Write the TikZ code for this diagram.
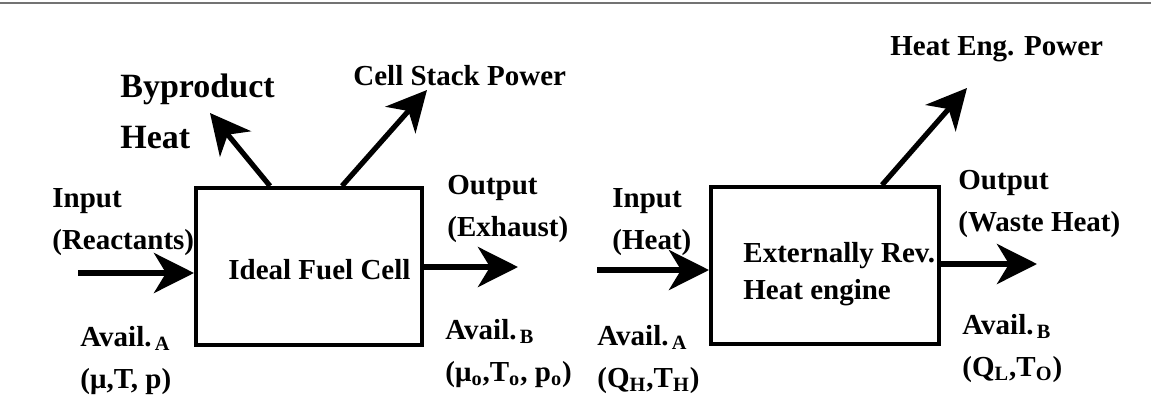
\documentclass[tikz,border=0pt]{standalone}
\usepackage{fontspec}
\setmainfont{Liberation Serif}
\usetikzlibrary{arrows.meta}
\begin{document}
\begin{tikzpicture}[x=0.5pt,y=-0.5pt,
  lbl/.style={anchor=base west,inner sep=0pt,align=left,font=\fontsize{14.5}{21}\selectfont\bfseries},
  biglbl/.style={lbl,font=\fontsize{17}{20}\selectfont\bfseries},
  blockbox/.style={draw,line width=2pt,inner sep=0pt,minimum height=78.5pt},
  flow/.style={line width=2.6pt,-{Stealth[length=20pt,width=20pt,inset=6pt]}}]
\useasboundingbox (0,0) rectangle (1151,418);
% rule at the top of the page
\draw[black!55,line width=1pt] (0,3) -- (1151,3);
% the two blocks (two-line labels sit on the baseline of their last line)
\node[blockbox,minimum width=113pt] (cell) at (309,266.5) {};
\node[blockbox,minimum width=114pt] (eng) at (825,265.5) {};
\node[lbl] (cellname) at (228,279) {Ideal Fuel Cell};
\node[lbl,font=\fontsize{14.5}{18.5}\selectfont\bfseries] (engname) at (743,299) {Externally Rev.\\Heat engine};
% labels of the fuel cell
\node[biglbl] (byprod) at (120,97) {Byproduct};
\node[biglbl] (byheat) at (120,148) {Heat};
\node[lbl] (stackpow) at (353,85) {Cell Stack Power};
\node[lbl] (cellin) at (52,249) {Input\\(Reactants)};
\node[lbl] (cellavin) at (80,388) {Avail.\textsubscript{\,A}\\(μ,T, p)};
\node[lbl] (cellout) at (447,236) {Output\\(Exhaust)};
\node[lbl] (cellavout) at (445,381) {Avail.\textsubscript{\,B}\\(μ\textsubscript{o},T\textsubscript{o}, p\textsubscript{o})};
% labels of the heat engine
\node[lbl] (engpow) at (890,55) {Heat Eng. Power};
\node[lbl] (engin) at (612,249) {Input\\(Heat)};
\node[lbl] (engavin) at (597,387) {Avail.\textsubscript{\,A}\\(Q\textsubscript{H},T\textsubscript{H})};
\node[lbl] (engout) at (958,231) {Output\\(Waste Heat)};
\node[lbl] (engavout) at (962,376) {Avail.\textsubscript{\,B}\\(Q\textsubscript{L},T\textsubscript{O})};
% free ends of the flows
\coordinate (in1) at (78,273);
\coordinate (out1) at (518,267);
\coordinate (heattip) at (210,113);
\coordinate (powtip) at (427,90);
\coordinate (in2) at (597,270);
\coordinate (out2) at (1037,264);
\coordinate (engtip) at (967,88);
% flows
\draw[flow] (in1) -- (in1 -| cell.west);
\draw[flow] (cell.east |- out1) -- (out1);
\draw[flow] ([xshift=-19.5pt]cell.north) -- (heattip);
\draw[flow] ([xshift=16.5pt]cell.north) -- (powtip);
\draw[flow] (in2) -- (in2 -| eng.west);
\draw[flow] (eng.east |- out2) -- (out2);
\draw[flow] ([xshift=28.5pt]eng.north) -- (engtip);
\end{tikzpicture}
\end{document}
